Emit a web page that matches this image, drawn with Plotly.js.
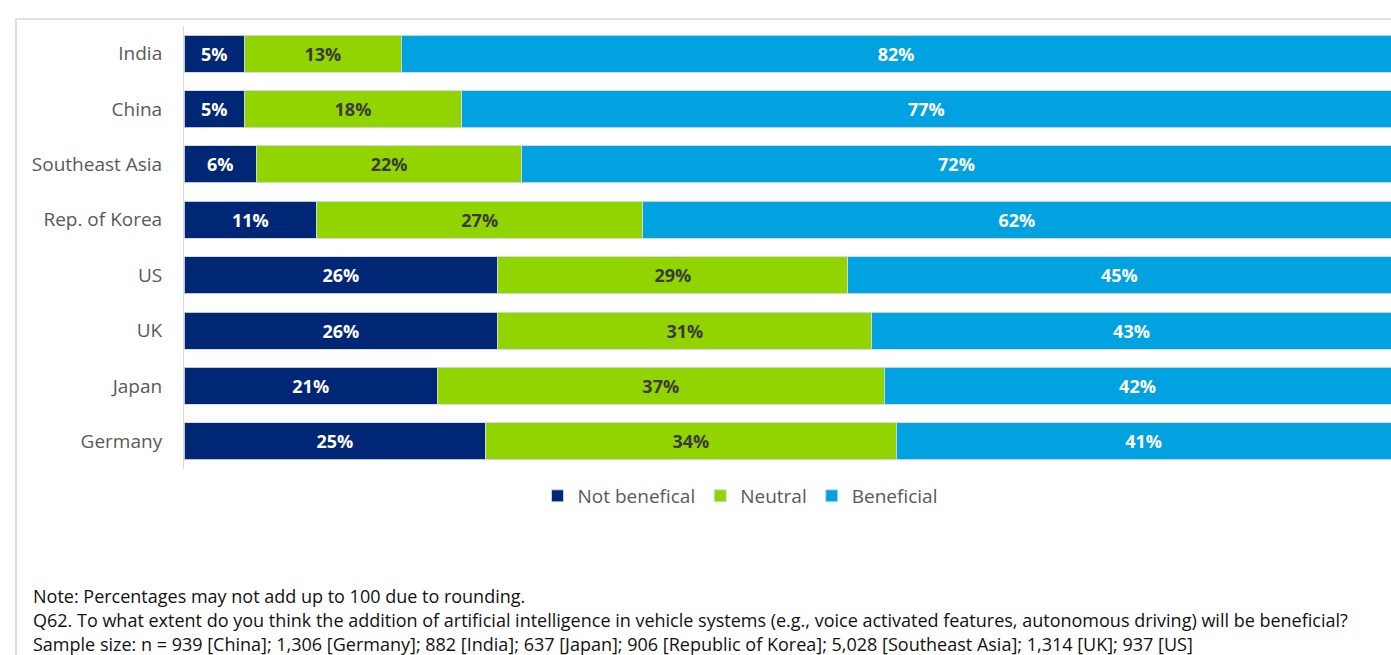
<!DOCTYPE html>
<html><head><meta charset="utf-8">
<script src="https://cdn.plot.ly/plotly-3.0.1.min.js"></script>
<style>html,body{margin:0;padding:0;background:#fff;}#chart{width:1391px;height:655px;}</style>
</head><body><div id="chart"></div>
<script>
const categories = ["India","China","Southeast Asia","Rep. of Korea","US","UK","Japan","Germany"];
const notBeneficial = [5,5,6,11,26,26,21,25];
const neutral = [13,18,22,27,29,31,37,34];
const beneficial = [82,77,72,62,45,43,42,41];
const seriesNames = ["Not benefical","Neutral","Beneficial"];
const noteLines = [
  "Note: Percentages may not add up to 100 due to rounding.",
  "Q62. To what extent do you think the addition of artificial intelligence in vehicle systems (e.g., voice activated features, autonomous driving) will be beneficial?",
  "Sample size: n = 939 [China]; 1,306 [Germany]; 882 [India]; 637 [Japan]; 906 [Republic of Korea]; 5,028 [Southeast Asia]; 1,314 [UK]; 937 [US]"
];

const colors = ["#002776","#92D400","#00A3E0"];
const textColors = ["#ffffff","#3a3a3a","#ffffff"];
const vals = [notBeneficial, neutral, beneficial];

const traces = vals.map((v,i)=>({
  type:"bar", orientation:"h", name:seriesNames[i],
  y:categories, x:v,
  marker:{color:colors[i], line:{color:"rgba(210,215,225,0.9)", width:1}},
  texttemplate:"%{x}%", textposition:"inside", insidetextanchor:"middle",
  textangle:0, constraintext:"none",
  textfont:{family:"Open Sans, sans-serif", size:18, color:textColors[i], weight:"bold"},
  hoverinfo:"skip"
}));

const plotTop = 26, plotBottom = 469, plotLeft = 184, W = 1391;
const ph = plotBottom - plotTop, pw = W - plotLeft;
const px = x => (x - plotLeft)/pw;
const py = y => (plotBottom - y)/ph;

const noteY = [596, 620, 644];
const noteSizes = [18, 18, 18];
const annotations = noteLines.map((t,i)=>({
  xref:"paper", yref:"paper", x:px(31), y:py(noteY[i]),
  xanchor:"left", yanchor:"middle", showarrow:false, align:"left",
  text:t,
  font:{family:"Open Sans, sans-serif", size:noteSizes[i], color:"#111111"}
}));

const layout = {
  width:1391, height:655,
  margin:{l:plotLeft, r:0, t:plotTop, b:655-plotBottom, pad:0},
  barmode:"stack", bargap:0.333,
  paper_bgcolor:"#fff", plot_bgcolor:"#fff",
  showlegend:true,
  legend:{orientation:"h", x:px(740), xanchor:"center", y:py(496), yanchor:"middle",
    font:{family:"Open Sans, sans-serif", size:19, color:"#595959"},
    traceorder:"normal", itemwidth:30},
  xaxis:{range:[0,100], visible:false, fixedrange:true},
  yaxis:{type:"category", categoryorder:"array", categoryarray:categories, autorange:"reversed",
    showline:true, linecolor:"#d9d9d9", linewidth:1, showgrid:false, zeroline:false,
    ticks:"", ticklabelstandoff:17,
    tickfont:{family:"Open Sans, sans-serif", size:19, color:"#595959"}},
  shapes:[{type:"rect", xref:"paper", yref:"paper", x0:px(16), x1:1.2, y0:py(19), y1:-1,
    line:{color:"#e0e0e0", width:2}, fillcolor:"rgba(0,0,0,0)", layer:"below"}],
  annotations:annotations
};
Plotly.newPlot("chart", traces, layout, {displayModeBar:false, staticPlot:true});
</script></body></html>
